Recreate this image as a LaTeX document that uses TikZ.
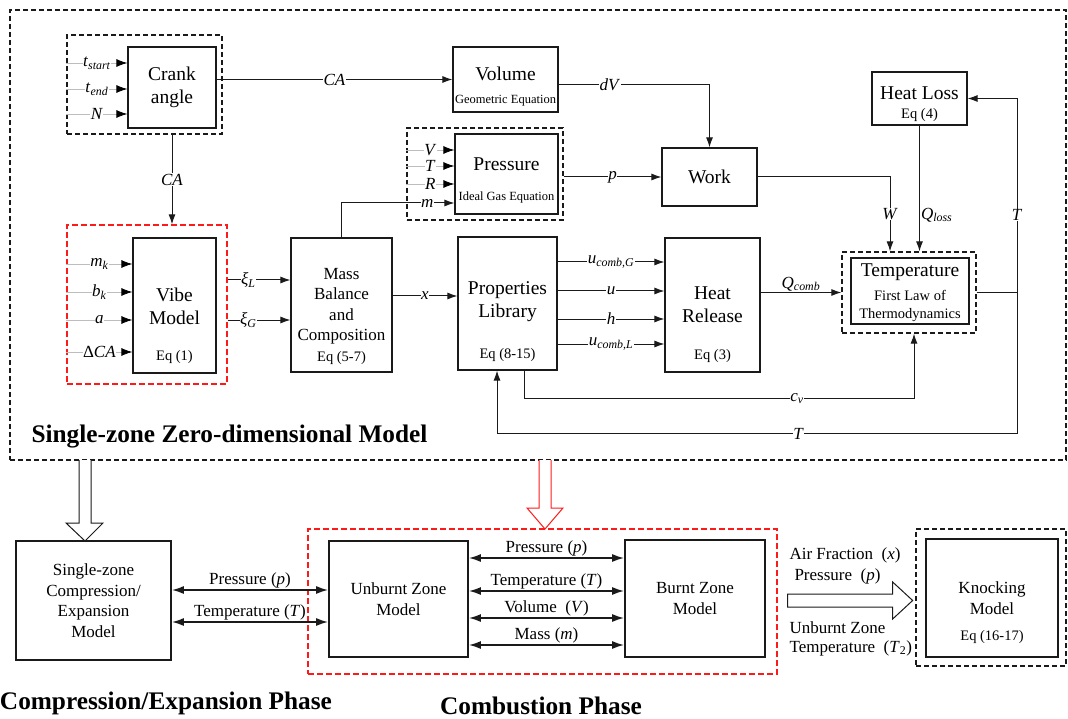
\documentclass[tikz,border=0pt]{standalone}
\usepackage{fontspec}
\setmainfont{Liberation Serif}
\usetikzlibrary{arrows.meta,positioning,calc}
\definecolor{dgInk}{HTML}{1A1A1A}
\definecolor{dgRed}{HTML}{FF1A1A}
\definecolor{dgFeed}{HTML}{BDBDBD}
\newcommand\fbig{\fontsize{19.5}{23}\selectfont}
\newcommand\fmid{\fontsize{17}{20.5}\selectfont}
\newcommand\fsml{\fontsize{14.5}{17.5}\selectfont}
\newcommand\ftny{\fontsize{12.5}{15}\selectfont}
\newcommand\fvar{\fontsize{17}{19}\selectfont}
\newcommand\fhead{\fontsize{25.3}{30}\selectfont\bfseries}
\newcommand\sub[1]{\textsubscript{\textit{#1}}}
\tikzset{
  dg/box/.style={draw=dgInk, line width=1.2pt, inner sep=0pt},
  dg/zone/.style={dg/box, line width=1.8pt, align=center, font=\fmid},
  dg/group/.style={draw=dgInk, line width=1.3pt, dash pattern=on 5pt off 3pt},
  dg/redgroup/.style={draw=dgRed, line width=1.3pt, dash pattern=on 6pt off 3pt},
  dg/line/.style={draw=dgInk, line width=1pt},
  dg/arrow/.style={dg/line, -{Latex[length=10pt,width=7pt]}},
  dg/feed/.style={draw=dgFeed, line width=0.8pt,
    -{Latex[length=11pt,width=8pt,color=black]}},
  dg/both/.style={draw=dgInk, line width=1.6pt,
    {Latex[length=12pt,width=8pt]}-{Latex[length=12pt,width=8pt]}},
  dg/var/.style={fill=white, inner sep=0.5pt, font=\fvar},
  dg/pair/.style={above, inner sep=1pt, font=\fmid},
  dg/title/.style={font=\fbig, align=center},
  dg/sub/.style={font=\ftny, align=center},
  dg/eq/.style={font=\fsml, align=center},
  dg/hollow/.style={draw=dgInk, line width=1pt, fill=white},
  dg/heading/.style={font=\fhead},
}

\begin{document}
\begin{tikzpicture}[x=1pt, y=-1pt]
\useasboundingbox (0,0) rectangle (1068,719);

% single-zone model
\node[dg/group, minimum width=1056pt, minimum height=450pt] (zerodim) at (538,235) {};
\node[dg/heading, anchor=west] (zdlabel) at (28,437) {Single-zone Zero-dimensional Model};

\node[dg/group, minimum width=155pt, minimum height=99pt] (crankgrp) at (144.5,84.5) {};
\node[dg/box, minimum width=88pt, minimum height=81pt, dg/title] (crank) at (172,87.5) {Crank\\angle};
\foreach \yy/\lab in {63/{\textit{t}\sub{start}}, 89/{\textit{t}\sub{end}}, 114/{\textit{N}}}
  \draw[dg/feed] (crankgrp.west |- 0,\yy) -- node[dg/var]{\lab} (crank.west |- 0,\yy);

\node[dg/box, minimum width=105pt, minimum height=65pt] (volume) at (505.5,79.5) {};
\node[dg/title] at (505.5,74) {Volume};
\node[dg/sub] at (505.5,101) {Geometric Equation};

\node[dg/group, minimum width=156pt, minimum height=92pt] (presgrp) at (485,174) {};
\node[dg/box, minimum width=103pt, minimum height=80pt] (pres) at (506.5,174) {};
\node[dg/title] at (506.5,164) {Pressure};
\node[dg/sub] at (506.5,197) {Ideal Gas Equation};
\foreach \yy/\lab in {150/V, 166/T, 184/R}
  \draw[dg/feed] (presgrp.west |- 0,\yy) -- node[dg/var]{\textit{\lab}} (pres.west |- 0,\yy);

\node[dg/box, minimum width=95pt, minimum height=58pt, dg/title] (work) at (709.5,177) {Work};

\node[dg/box, minimum width=95pt, minimum height=53pt] (heatloss) at (919.5,98.5) {};
\node[dg/title] at (919.5,93) {Heat Loss};
\node[dg/eq] at (919.5,115) {Eq (4)};

\node[dg/group, minimum width=134pt, minimum height=81pt] (tempgrp) at (909,292.5) {};
\node[dg/box, minimum width=118pt, minimum height=66pt] (temp) at (910,291) {};
\node[dg/title] at (910,272) {Temperature};
\node[dg/eq] at (910,306) {First Law of\\Thermodynamics};

\node[dg/redgroup, minimum width=160pt, minimum height=159pt] (vibegrp) at (147,304.5) {};
\node[dg/box, minimum width=83pt, minimum height=135pt] (vibe) at (174.5,305.5) {};
\node[dg/title] at (174.5,306) {Vibe\\Model};
\node[dg/eq] at (174.5,357) {Eq (1)};
\foreach \yy/\lab in {264/{\textit{m}\sub{k}}, 292/{\textit{b}\sub{k}}, 320/{\textit{a}}, 352/{Δ\textit{CA}}}
  \draw[dg/feed] (vibegrp.west |- 0,\yy) -- node[dg/var]{\lab} (vibe.west |- 0,\yy);

\node[dg/box, minimum width=101pt, minimum height=134pt] (mass) at (341.5,305) {};
\node[font=\fmid, align=center] at (341.5,316) {Mass\\Balance\\and\\Composition\\{\fsml Eq (5-7)}};

\node[dg/box, minimum width=99pt, minimum height=133pt] (props) at (507.5,303.5) {};
\node[dg/title] at (507.5,302) {Properties\\Library};
\node[dg/eq] at (507.5,355) {Eq (8-15)};

\node[dg/box, minimum width=95pt, minimum height=134pt] (heatrel) at (712.5,305) {};
\node[dg/title] at (712.5,305) {Heat\\Release};
\node[dg/eq] at (712.5,356) {Eq (3)};

% signal flow
\draw[dg/arrow] (crank.east |- volume.west) -- node[dg/var]{\textit{CA}} (volume.west);
\draw[dg/arrow] (crank.south |- crankgrp.south) -- node[dg/var]{\textit{CA}} (crank.south |- vibegrp.north);
\draw[dg/arrow] ($(volume.east)+(0,5.5)$) -| node[dg/var, pos=0.17]{\textit{dV}} (work.north);
\draw[dg/arrow] (presgrp.east |- work.west) -- node[dg/var]{\textit{p}} (work.west);
\draw[dg/arrow] (mass.north) |- node[dg/var, pos=0.88]{\textit{m}} (pres.west |- 0,203);
\foreach \yy/\lab in {280/L, 320/G}
  \draw[dg/arrow] (vibegrp.east |- 0,\yy) -- node[dg/var, pos=0.33]{\textit{ξ}\sub{\lab}} (mass.west |- 0,\yy);
\draw[dg/arrow] (mass.east |- 0,296) -- node[dg/var]{\textit{x}} (props.west |- 0,296);
\foreach \yy/\lab in {262/{\textit{u}\sub{comb,G}}, 291/{\textit{u}}, 319/{\textit{h}}, 344/{\textit{u}\sub{comb,L}}}
  \draw[dg/arrow] (props.east |- 0,\yy) -- node[dg/var]{\lab} (heatrel.west |- 0,\yy);
\draw[dg/arrow] (work.east) -| node[dg/var, pos=0.75]{\textit{W}} ($(tempgrp.north)+(-19,0)$);
\draw[dg/arrow] (heatloss.south) -- node[pos=0.71, anchor=west, inner sep=1pt, font=\fvar]{\textit{Q}\sub{loss}} (heatloss.south |- tempgrp.north);
\draw[dg/arrow] (heatrel.east |- tempgrp.west) -- node[above, inner sep=1pt, font=\fvar]{\textit{Q}\sub{comb}} (tempgrp.west);
\coordinate (tj) at (1017,292.5);
\draw[dg/line] (tempgrp.east) -- (tj);
\draw[dg/arrow] (tj) |- (heatloss.east);
\node[dg/var] at (tj |- 0,215) {\textit{T}};
\draw[dg/arrow] (tj) |- node[dg/var, pos=0.71]{\textit{T}} ($(props.south)+(-10.5,63)$) -- ($(props.south)+(-10.5,0)$);
\draw[dg/arrow] ($(props.south)+(16.5,0)$) |- node[dg/var, pos=0.85]{\textit{c}\sub{v}} ($(tempgrp.south)+(5,65)$) -- ($(tempgrp.south)+(5,0)$);

% phases
\node[dg/zone, minimum width=155pt, minimum height=119pt] (sz) at (93.5,600.5) {Single-zone\\Compression/\\Expansion\\Model};
\node[dg/redgroup, minimum width=469pt, minimum height=145pt] (comb) at (542.5,601.5) {};
\node[dg/zone, minimum width=139pt, minimum height=116pt] (unburnt) at (398.5,599) {Unburnt Zone\\Model};
\node[dg/zone, minimum width=140pt, minimum height=117pt] (burnt) at (695,598.5) {Burnt Zone\\Model};
\node[dg/group, minimum width=150pt, minimum height=137pt] (knockgrp) at (991,597.5) {};
\node[dg/zone, minimum width=132pt, minimum height=118pt] (knock) at (992,598) {};
\node[font=\fmid, align=center] at (992,598) {Knocking\\Model};
\node[dg/eq] at (992,637) {Eq (16-17)};

\draw[dg/both] (sz.east |- 0,590) -- node[dg/pair]{Pressure (\textit{p})} (unburnt.west |- 0,590);
\draw[dg/both] (sz.east |- 0,622) -- node[dg/pair]{Temperature (\textit{T})} (unburnt.west |- 0,622);
\foreach \yy/\lab in {558/{Pressure (\textit{p})}, 591/{Temperature (\textit{T})}, 618/{Volume~ (\textit{V})}, 645/{Mass (\textit{m})}}
  \draw[dg/both] (unburnt.east |- 0,\yy) -- node[dg/pair]{\lab} (burnt.west |- 0,\yy);

% block arrows
\coordinate (down1) at (85,460);
\draw[dg/hollow] ($(down1)+(-6,0)$) -- ++(0,63) -- ++(-13,0) -- ++(19,18) -- ++(18,-18) -- ++(-12,0) -- ++(0,-63);
\coordinate (down2) at (545,460);
\draw[dg/hollow, draw=dgRed] ($(down2)+(-6,0)$) -- ++(0,48) -- ++(-12,0) -- ++(18,21) -- ++(18,-21) -- ++(-12,0) -- ++(0,-48);
\coordinate (fa) at ($(comb.east)+(10,-1)$);
\draw[dg/hollow] ($(fa)+(0,-6.5)$) -- ++(105,0) -- ++(0,-12) -- ++(20,18.5) -- ++(-20,18.5) -- ++(0,-12) -- ++(-105,0) -- cycle;
\node[font=\fmid, anchor=west] at (786,555) {Air Fraction~ (\textit{x})};
\node[font=\fmid, anchor=west] at (791,576) {Pressure~ (\textit{p})};
\node[font=\fmid, anchor=west] at (786,628) {Unburnt Zone};
\node[font=\fmid, anchor=west] at (786,648) {Temperature~ (\textit{T}\textsubscript{2})};

\node[dg/heading] at (166,703) {Compression/Expansion Phase};
\node[dg/heading] at (541,706) {Combustion Phase};
\end{tikzpicture}
\end{document}
